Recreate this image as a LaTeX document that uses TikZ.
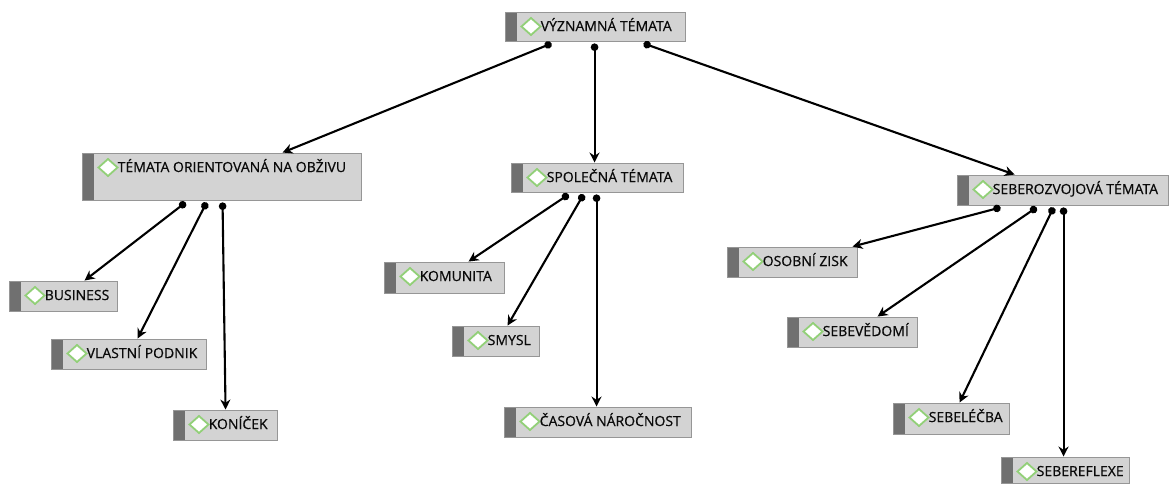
\documentclass[tikz,border=0pt]{standalone}
\usepackage{fontspec}
\setmainfont{Open Sans}
\newfontfamily\lblfont{Open Sans}[FakeBold=0.6]
\usetikzlibrary{arrows.meta,fit}
\definecolor{boxfill}{RGB}{211,211,211}
\definecolor{boxline}{RGB}{150,150,150}
\definecolor{stripc}{RGB}{112,112,112}
\definecolor{diag}{RGB}{146,208,120}
\definecolor{ink}{RGB}{10,10,10}
\begin{document}
\begin{tikzpicture}[x=1pt,y=-1pt,
  topic/.style={draw=boxline, line width=0.9pt, fill=boxfill, inner sep=0pt,
    path picture={
      \fill[stripc] (path picture bounding box.north west) rectangle ([xshift=12pt]path picture bounding box.south west);
      \draw[diag, line width=1.8pt, fill=white, line join=miter]
        ([shift={(16.5,14.5)}]path picture bounding box.north west) -- ++(9.5,-8.5) -- ++(9.5,8.5) -- ++(-9.5,8.5) -- cycle;
    }},
  lbl/.style={anchor=base west, inner sep=0pt, text=ink, font=\lblfont\fontsize{14}{16}\selectfont},
  conn/.style={line width=2.1pt, draw=black, {Circle[length=7.5pt]}-{Stealth[length=10pt,width=10pt]}}
]
\useasboundingbox (0,0) rectangle (1170,484);

% boxes
\node[topic, fit={(505,12) (685,41)}] (vyz) {};
\node[topic, fit={(82,153) (361,200)}] (obz) {};
\node[topic, fit={(511,163) (683,192)}] (spo) {};
\node[topic, fit={(957,175) (1168,205)}] (seb) {};
\node[topic, fit={(9,281) (117,311)}] (bus) {};
\node[topic, fit={(51,339) (206,369)}] (vla) {};
\node[topic, fit={(173,410) (277,440)}] (kon) {};
\node[topic, fit={(384,262) (504,293)}] (kom) {};
\node[topic, fit={(452,326) (539,356)}] (smy) {};
\node[topic, fit={(504,407) (691,437)}] (cas) {};
\node[topic, fit={(727,247) (857,277)}] (oso) {};
\node[topic, fit={(787,317) (917,347)}] (sev) {};
\node[topic, fit={(893,403) (1009,434)}] (sel) {};
\node[topic, fit={(1001,457) (1129,483.5)}] (ref) {};

% labels
\node[lbl] (vyz-t) at ([shift={(36,19.5)}]vyz.north west) {VÝZNAMNÁ TÉMATA};
\node[lbl] (obz-t) at ([shift={(36,19.5)}]obz.north west) {TÉMATA ORIENTOVANÁ NA OBŽIVU};
\node[lbl] (spo-t) at ([shift={(36,19.5)}]spo.north west) {SPOLEČNÁ TÉMATA};
\node[lbl] (seb-t) at ([shift={(36,19.5)}]seb.north west) {SEBEROZVOJOVÁ TÉMATA};
\node[lbl] (bus-t) at ([shift={(36,19.5)}]bus.north west) {BUSINESS};
\node[lbl] (vla-t) at ([shift={(36,19.5)}]vla.north west) {VLASTNÍ PODNIK};
\node[lbl] (kon-t) at ([shift={(36,19.5)}]kon.north west) {KONÍČEK};
\node[lbl] (kom-t) at ([shift={(36,19.5)}]kom.north west) {KOMUNITA};
\node[lbl] (smy-t) at ([shift={(36,19.5)}]smy.north west) {SMYSL};
\node[lbl] (cas-t) at ([shift={(36,19.5)}]cas.north west) {ČASOVÁ NÁROČNOST};
\node[lbl] (oso-t) at ([shift={(36,19.5)}]oso.north west) {OSOBNÍ ZISK};
\node[lbl] (sev-t) at ([shift={(36,19.5)}]sev.north west) {SEBEVĚDOMÍ};
\node[lbl] (sel-t) at ([shift={(36,19.5)}]sel.north west) {SEBELÉČBA};
\node[lbl] (ref-t) at ([shift={(36,19.5)}]ref.north west) {SEBEREFLEXE};

% connectors
\draw[conn] ([shift={(47,2)}]vyz.south west) -- ([xshift=201pt]obz.north west);
\draw[conn] ([shift={(90,2)}]vyz.south west) -- ([xshift=84pt]spo.north west);
\draw[conn] ([shift={(139,2)}]vyz.south west) -- ([xshift=58pt]seb.north west);

\draw[conn] ([shift={(104,2)}]obz.south west) -- ([xshift=76pt]bus.north west);
\draw[conn] ([shift={(125,2)}]obz.south west) -- ([xshift=87pt]vla.north west);
\draw[conn] ([shift={(141,2)}]obz.south west) -- ([xshift=53pt]kon.north west);

\draw[conn] ([shift={(58,2)}]spo.south west) -- ([xshift=85pt]kom.north west);
\draw[conn] ([shift={(73,2)}]spo.south west) -- ([xshift=56pt]smy.north west);
\draw[conn] ([shift={(86,2)}]spo.south west) -- ([xshift=93pt]cas.north west);

\draw[conn] ([shift={(44,2)}]seb.south west) -- ([xshift=126pt]oso.north west);
\draw[conn] ([shift={(80,2)}]seb.south west) -- ([xshift=91pt]sev.north west);
\draw[conn] ([shift={(97,2)}]seb.south west) -- ([xshift=67pt]sel.north west);
\draw[conn] ([shift={(107,2)}]seb.south west) -- ([xshift=63pt]ref.north west);
\end{tikzpicture}
\end{document}
